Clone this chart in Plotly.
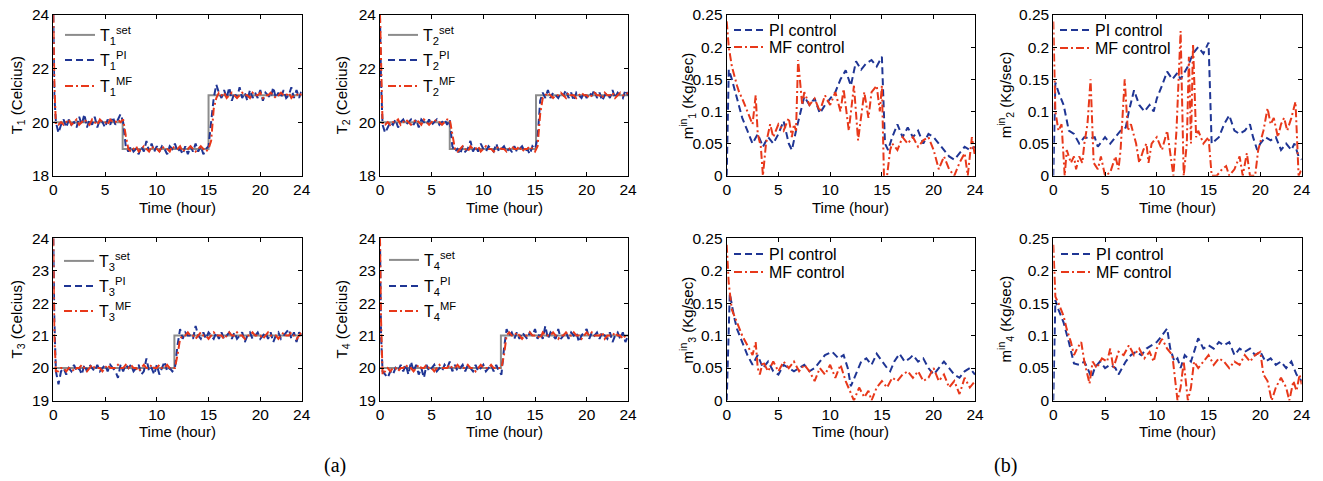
import plotly.graph_objects as go

W, H = 1323, 481

# ---------------- data ----------------
T_TIME = [0, 0.1] + [round(0.25 * i, 2) for i in range(1, 97)]

T1_SET_T = [0, 6.7, 6.7, 15.0, 15.0, 24]
T1_SET = [20, 20, 19, 19, 21, 21]
T1_PI = [24.0, 21.0,
    20.0, 19.6, 19.9, 20.1,
    19.8, 20.1, 19.9, 20.0,
    19.8, 20.2, 19.9, 20.3,
    19.8, 20.1, 19.9, 20.2,
    19.8, 20.1, 20.0, 19.8,
    20.1, 19.9, 20.2, 19.9,
    20.1, 20.3, 20.0, 19.1,
    18.9, 19.1, 18.9, 19.0,
    18.8, 19.1, 18.9, 19.3,
    18.9, 19.2, 18.9, 19.1,
    18.9, 19.1, 19.0, 18.8,
    19.1, 19.0, 19.2, 18.9,
    19.0, 18.8, 19.1, 18.8,
    19.1, 18.9, 19.2, 18.9,
    19.1, 18.8, 19.0, 19.1,
    20.0, 20.9, 21.4, 21.1,
    20.9, 21.2, 20.9, 21.3,
    20.8, 21.1, 20.9, 21.3,
    20.9, 21.1, 20.8, 21.2,
    20.9, 21.1, 20.9, 21.2,
    20.8, 21.1, 21.0, 20.9,
    21.3, 20.9, 21.1, 20.9,
    21.2, 20.9, 21.0, 21.3,
    20.9, 21.2, 20.9, 21.2]
T1_MF = [24.0, 21.5,
    19.9, 19.9, 20.0, 19.9,
    20.0, 20.1, 19.9, 20.0,
    20.1, 19.9, 20.0, 20.1,
    20.0, 19.9, 20.1, 20.0,
    19.9, 20.1, 20.0, 20.0,
    19.9, 20.1, 20.0, 20.0,
    20.1, 20.0, 20.1, 19.5,
    19.0, 18.9, 19.0, 19.1,
    18.9, 19.0, 19.1, 19.0,
    18.9, 19.1, 19.0, 19.0,
    18.9, 19.1, 19.0, 19.0,
    18.9, 19.1, 19.0, 19.0,
    19.1, 18.9, 19.0, 19.0,
    19.1, 19.0, 18.9, 19.0,
    19.1, 19.0, 18.9, 19.0,
    19.3, 20.5, 20.9, 21.1,
    21.0, 21.1, 20.9, 21.0,
    21.1, 21.0, 20.9, 21.0,
    21.1, 21.0, 21.0, 20.9,
    21.1, 21.0, 21.0, 21.1,
    20.9, 21.0, 21.0, 21.1,
    21.0, 20.9, 21.0, 21.1,
    21.0, 21.0, 21.1, 20.9,
    21.0, 21.0, 21.1, 21.0]

T2_SET_T = [0, 6.75, 6.75, 15.1, 15.1, 24]
T2_SET = [20, 20, 19, 19, 21, 21]
T2_PI = [24.0, 21.5,
    19.9, 19.6, 19.8, 20.0,
    19.9, 20.1, 19.8, 20.0,
    20.1, 19.9, 20.0, 20.1,
    19.9, 20.1, 19.8, 20.1,
    20.0, 19.9, 20.1, 19.9,
    20.0, 20.1, 19.9, 20.0,
    20.1, 19.9, 20.1, 19.1,
    18.9, 19.0, 18.8, 19.1,
    18.9, 19.0, 19.3, 18.9,
    19.1, 18.9, 19.2, 19.0,
    18.9, 19.1, 19.0, 18.9,
    19.2, 18.9, 19.0, 19.1,
    18.9, 19.0, 18.9, 19.1,
    18.9, 19.0, 19.1, 18.9,
    19.0, 18.8, 19.1, 19.0,
    19.4, 20.8, 21.1, 20.9,
    21.2, 20.9, 21.1, 21.0,
    20.9, 21.1, 21.0, 21.2,
    20.9, 21.1, 20.8, 21.1,
    21.0, 20.9, 21.1, 20.9,
    21.1, 21.0, 21.2, 20.9,
    21.1, 20.8, 21.0, 21.1,
    20.9, 21.2, 20.9, 21.1,
    21.0, 20.9, 21.2, 21.0]
T2_MF = [24.0, 22.0,
    19.9, 19.9, 20.0, 19.9,
    20.0, 20.0, 20.1, 19.9,
    20.0, 20.1, 20.0, 19.9,
    20.0, 20.1, 20.0, 19.9,
    20.1, 20.0, 19.9, 20.0,
    20.1, 20.0, 20.0, 19.9,
    20.0, 20.1, 20.1, 19.5,
    19.0, 18.9, 19.0, 19.1,
    19.0, 18.9, 19.1, 19.0,
    19.0, 19.1, 18.9, 19.0,
    19.1, 19.0, 19.0, 18.9,
    19.0, 19.1, 19.0, 19.0,
    18.9, 19.0, 19.1, 19.0,
    19.0, 19.1, 18.9, 19.0,
    19.0, 19.1, 19.0, 18.9,
    19.1, 20.3, 20.9, 21.0,
    21.1, 21.0, 20.9, 21.0,
    21.0, 21.1, 21.0, 20.9,
    21.1, 21.0, 21.0, 20.9,
    21.0, 21.1, 21.0, 21.0,
    20.9, 21.0, 21.1, 21.0,
    21.0, 20.9, 21.1, 21.0,
    21.0, 21.1, 20.9, 21.0,
    21.1, 21.0, 21.0, 21.1]

T3_SET_T = [0, 11.7, 11.7, 24]
T3_SET = [20, 20, 21, 21]
T3_PI = [24.0, 21.5,
    19.9, 19.5, 19.9, 20.0,
    19.8, 20.0, 19.9, 20.1,
    19.9, 20.0, 19.8, 20.1,
    19.9, 20.1, 20.0, 19.9,
    20.1, 19.9, 20.0, 20.1,
    19.9, 20.1, 20.0, 19.9,
    19.7, 20.1, 19.9, 20.1,
    20.0, 20.1, 19.9, 20.0,
    20.1, 19.8, 19.9, 20.3,
    19.9, 20.0, 19.8, 20.1,
    19.8, 20.0, 20.2, 19.9,
    20.0, 19.9, 20.0, 20.7,
    21.2, 20.9, 21.1, 21.0,
    21.0, 20.9, 21.3, 21.0,
    20.9, 21.1, 20.9, 21.1,
    21.0, 20.9, 21.1, 20.9,
    21.1, 20.9, 21.0, 21.1,
    20.9, 21.1, 20.9, 21.0,
    21.1, 20.8, 21.0, 21.1,
    20.9, 21.0, 21.1, 20.9,
    21.0, 21.1, 20.9, 21.1,
    20.8, 21.0, 21.1, 20.9,
    21.0, 21.1, 21.2, 20.9,
    21.1, 20.8, 21.1, 21.0]
T3_MF = [24.0, 21.0,
    19.9, 19.9, 20.0, 20.0,
    19.9, 20.0, 20.0, 19.9,
    20.0, 20.0, 20.1, 20.0,
    19.9, 20.0, 20.1, 20.0,
    20.0, 20.0, 19.9, 20.0,
    20.1, 20.0, 20.0, 20.0,
    20.1, 20.0, 20.0, 20.1,
    20.0, 20.1, 20.0, 20.0,
    19.9, 20.0, 20.1, 20.0,
    20.0, 20.1, 20.0, 20.0,
    20.1, 20.0, 20.0, 20.1,
    20.0, 20.0, 20.0, 20.4,
    20.9, 21.0, 21.0, 21.1,
    21.0, 21.0, 20.9, 21.0,
    21.1, 21.0, 21.0, 20.9,
    21.0, 21.1, 21.0, 21.0,
    21.0, 20.9, 21.0, 21.1,
    21.0, 21.0, 21.1, 21.0,
    21.0, 20.9, 21.0, 21.0,
    21.1, 21.0, 21.0, 21.0,
    20.9, 21.0, 21.1, 21.0,
    21.0, 21.0, 20.9, 21.0,
    21.1, 21.0, 21.0, 21.1,
    21.0, 20.9, 21.0, 21.1]

T4_SET_T = [0, 11.7, 11.7, 24]
T4_SET = [20, 20, 21, 21]
T4_PI = [24.0, 21.0,
    19.9, 19.8, 19.7, 19.9,
    19.8, 20.0, 19.9, 20.1,
    19.9, 20.1, 19.8, 20.2,
    19.9, 20.1, 19.8, 20.0,
    19.7, 20.1, 19.9, 20.0,
    20.1, 19.9, 20.0, 19.9,
    20.1, 20.0, 20.2, 19.9,
    20.1, 19.9, 20.0, 20.1,
    19.9, 20.1, 20.0, 19.9,
    20.1, 19.9, 20.0, 20.1,
    19.9, 20.0, 20.1, 19.9,
    20.1, 19.9, 19.8, 20.6,
    21.2, 21.0, 21.1, 20.9,
    21.1, 20.9, 21.1, 21.0,
    20.9, 21.1, 21.0, 21.2,
    20.9, 21.1, 20.9, 21.3,
    20.9, 21.1, 21.0, 20.9,
    21.2, 20.9, 21.0, 21.1,
    20.9, 21.1, 21.0, 21.1,
    20.8, 21.0, 21.1, 21.2,
    20.9, 21.1, 21.0, 21.1,
    20.9, 21.1, 21.0, 20.9,
    21.1, 20.8, 21.0, 21.1,
    20.9, 21.1, 20.8, 21.0]
T4_MF = [24.0, 21.5,
    19.8, 19.9, 20.0, 19.9,
    20.0, 20.0, 19.9, 20.0,
    20.0, 20.1, 20.0, 20.0,
    19.9, 20.0, 20.1, 20.0,
    20.0, 20.1, 20.0, 20.0,
    19.9, 20.0, 20.1, 20.0,
    20.0, 20.0, 20.1, 20.0,
    20.0, 20.1, 20.0, 20.0,
    20.0, 20.1, 20.0, 20.0,
    19.9, 20.0, 20.1, 20.0,
    20.0, 20.0, 20.1, 20.0,
    20.0, 20.0, 20.0, 20.4,
    21.0, 21.1, 21.0, 21.0,
    21.1, 21.0, 20.9, 21.0,
    21.0, 21.1, 21.0, 21.0,
    21.0, 20.9, 21.1, 21.0,
    21.0, 21.0, 21.1, 21.0,
    20.9, 21.0, 21.0, 21.1,
    21.0, 21.0, 21.1, 21.0,
    21.0, 20.9, 21.0, 21.1,
    21.0, 21.1, 21.0, 21.0,
    21.0, 21.1, 20.9, 21.0,
    21.0, 21.0, 21.1, 21.0,
    21.0, 20.9, 21.0, 21.0]

M1_PI_T = [0, 0.2, 0.5, 1, 1.5, 2, 2.5, 3, 3.5, 4, 4.5, 5, 5.5, 6, 6.3, 6.7, 7.0, 7.5, 8, 8.5,
           9, 9.5, 10, 10.5, 11, 11.5, 12, 12.5, 13, 13.5, 14, 14.5, 15, 15.3, 15.6, 16, 16.5, 17, 17.5, 18,
           18.5, 19, 19.5, 20, 20.5, 21, 21.5, 22, 22.5, 23, 23.5, 24]
M1_PI = [0, 0.165, 0.15, 0.12, 0.09, 0.07, 0.05, 0.065, 0.045, 0.06, 0.05, 0.065, 0.085, 0.05, 0.04, 0.07, 0.09, 0.123, 0.11, 0.12,
         0.097, 0.11, 0.12, 0.13, 0.15, 0.164, 0.14, 0.178, 0.165, 0.175, 0.18, 0.17, 0.185, 0.05, 0.04, 0.06, 0.08, 0.06, 0.075, 0.06,
         0.07, 0.05, 0.065, 0.06, 0.05, 0.04, 0.03, 0.025, 0.035, 0.045, 0.04, 0.045]
M1_MF_T = [0, 0.2, 0.5, 0.8, 1.0, 1.2, 1.5, 2.0, 2.5, 2.8, 3.0, 3.3, 3.5, 3.8, 4.2, 4.5, 5.0, 5.5, 6.0, 6.3,
           6.5, 6.7, 6.9, 7.3, 7.5, 8.0, 8.5, 9.0, 9.5, 10.0, 10.5, 11.0, 11.3, 11.8, 12.0, 12.3, 12.7, 13.0, 13.3, 13.7,
           14.0, 14.5, 14.8, 15.0, 15.2, 15.5, 15.8, 16.0, 16.5, 17.0, 17.5, 18.0, 18.5, 19.0, 19.5, 20.0, 20.5, 21.0, 21.5, 22.0,
           22.5, 23.0, 23.3, 23.7, 24.0]
M1_MF = [0.24, 0.2, 0.17, 0.15, 0.14, 0.13, 0.12, 0.1, 0.08, 0.125, 0.065, 0.045, 0.0, 0.05, 0.08, 0.06, 0.08, 0.07, 0.09, 0.06,
         0.08, 0.07, 0.18, 0.11, 0.13, 0.11, 0.12, 0.1, 0.125, 0.11, 0.13, 0.1, 0.135, 0.07, 0.1, 0.14, 0.055, 0.09, 0.13, 0.09,
         0.13, 0.14, 0.1, 0.14, 0.0, 0.0, 0.04, 0.05, 0.04, 0.06, 0.05, 0.06, 0.045, 0.055, 0.06, 0.04, 0.01, 0.03, 0.01, 0.0,
         0.02, 0.035, 0.0, 0.06, 0.03]

M2_PI_T = [0, 0.2, 0.5, 1.0, 1.5, 2.0, 2.5, 3.0, 3.5, 4.0, 4.3, 5.0, 5.5, 6.0, 6.5, 7.0, 7.3, 7.8, 8.3, 8.8,
           9.3, 9.7, 10.0, 10.5, 11.0, 11.5, 12.0, 12.3, 13.0, 13.5, 14.0, 14.5, 15.0, 15.3, 16.0, 16.5, 17.0, 17.5, 18.0, 18.5,
           19.0, 19.3, 19.7, 20.0, 20.5, 21.0, 21.5, 22.0, 22.5, 23.0, 23.3, 23.7, 24.0]
M2_PI = [0, 0.145, 0.13, 0.11, 0.07, 0.065, 0.05, 0.06, 0.058, 0.06, 0.045, 0.06, 0.05, 0.06, 0.07, 0.075, 0.1, 0.133, 0.11, 0.1,
         0.11, 0.1, 0.12, 0.14, 0.162, 0.15, 0.16, 0.15, 0.17, 0.19, 0.2, 0.19, 0.207, 0.05, 0.06, 0.08, 0.094, 0.07, 0.065, 0.07,
         0.08, 0.06, 0.04, 0.05, 0.06, 0.055, 0.06, 0.04, 0.05, 0.04, 0.05, 0.03, 0.025]
M2_MF_T = [0, 0.2, 0.5, 0.8, 1.1, 1.3, 1.7, 2.0, 2.2, 2.5, 2.8, 3.0, 3.3, 3.6, 3.9, 4.3, 4.6, 5.0, 5.5, 6.0,
           6.3, 6.5, 6.9, 7.2, 7.5, 8.0, 8.3, 8.7, 9.0, 9.2, 9.5, 10.0, 10.5, 11.0, 11.6, 11.9, 12.3, 12.6, 12.9, 13.1,
           13.3, 13.5, 13.8, 14.0, 14.5, 15.0, 15.3, 15.8, 16.3, 16.7, 17.0, 17.5, 18.0, 18.3, 18.7, 19.0, 19.5, 19.8, 20.3, 20.7,
           21.0, 21.3, 21.7, 22.0, 22.3, 22.6, 23.0, 23.4, 23.7, 24.0]
M2_MF = [0.24, 0.1, 0.07, 0.08, 0.0, 0.04, 0.02, 0.03, 0.01, 0.03, 0.02, 0.05, 0.08, 0.15, 0.02, 0.01, 0.03, 0.0, 0.005, 0.03,
         0.01, 0.04, 0.15, 0.07, 0.08, 0.05, 0.02, 0.04, 0.05, 0.02, 0.05, 0.06, 0.04, 0.07, 0.0, 0.07, 0.225, 0.0, 0.05, 0.185,
         0.05, 0.205, 0.06, 0.07, 0.05, 0.06, 0.0, 0.0, 0.01, 0.015, 0.0, 0.01, 0.03, 0.0, 0.035, 0.0, 0.0, 0.04, 0.07, 0.105,
         0.08, 0.09, 0.06, 0.08, 0.09, 0.07, 0.09, 0.115, 0.0, 0.01]

M3_PI_T = [0, 0.3, 0.7, 1.0, 1.5, 2.0, 2.5, 3.0, 3.5, 4.0, 4.5, 5.0, 5.5, 6.0, 6.5, 7.0, 7.5, 8.0, 8.5, 9.0,
           9.5, 10.2, 10.8, 11.3, 11.7, 12.0, 12.5, 13.0, 13.5, 14.0, 14.5, 15.0, 15.5, 15.8, 16.2, 16.7, 17.2, 17.7, 18.0, 18.5,
           19.0, 19.5, 20.0, 20.5, 21.0, 21.5, 22.0, 22.5, 23.0, 23.5, 24.0]
M3_PI = [0, 0.165, 0.13, 0.11, 0.09, 0.07, 0.055, 0.07, 0.05, 0.06, 0.045, 0.04, 0.055, 0.05, 0.045, 0.05, 0.055, 0.045, 0.05, 0.06,
         0.07, 0.075, 0.065, 0.07, 0.05, 0.022, 0.04, 0.06, 0.065, 0.055, 0.072, 0.06, 0.05, 0.045, 0.06, 0.072, 0.06, 0.065, 0.07, 0.06,
         0.065, 0.05, 0.04, 0.05, 0.06, 0.05, 0.04, 0.035, 0.045, 0.05, 0.04]
M3_MF_T = [0, 0.2, 0.5, 1.0, 1.5, 2.0, 2.5, 2.8, 3.0, 3.2, 3.5, 4.0, 4.5, 5.0, 5.5, 6.0, 6.5, 7.0, 7.5, 8.0,
           8.5, 9.0, 9.5, 10.0, 10.5, 11.0, 11.5, 12.3, 12.8, 13.3, 13.7, 14.0, 14.5, 15.0, 15.5, 16.0, 16.5, 17.0, 17.5, 18.0,
           18.5, 19.0, 19.5, 20.0, 20.5, 21.0, 21.5, 22.0, 22.5, 23.0, 23.5, 24.0]
M3_MF = [0.24, 0.18, 0.14, 0.12, 0.1, 0.085, 0.07, 0.09, 0.05, 0.04, 0.06, 0.045, 0.06, 0.045, 0.06, 0.05, 0.06, 0.045, 0.055, 0.045,
         0.03, 0.05, 0.04, 0.055, 0.035, 0.055, 0.03, 0.0, 0.02, 0.005, 0.015, 0.0, 0.02, 0.03, 0.02, 0.035, 0.03, 0.04, 0.045, 0.035,
         0.045, 0.03, 0.035, 0.05, 0.03, 0.04, 0.02, 0.03, 0.01, 0.035, 0.02, 0.03]

M4_PI_T = [0, 0.2, 0.5, 1.0, 1.5, 2.0, 2.5, 3.0, 3.3, 3.7, 4.0, 4.5, 5.0, 5.5, 6.0, 6.3, 7.0, 7.5, 8.0, 8.5,
           9.0, 9.5, 10.0, 10.5, 11.0, 11.3, 11.7, 12.0, 12.3, 12.7, 13.3, 13.7, 14.0, 14.5, 15.0, 15.5, 16.0, 16.5, 17.0, 17.5,
           18.0, 18.5, 19.0, 19.5, 20.0, 20.5, 21.0, 21.5, 22.0, 22.5, 23.0, 23.5, 24.0]
M4_PI = [0, 0.155, 0.14, 0.12, 0.09, 0.057, 0.055, 0.06, 0.05, 0.035, 0.05, 0.06, 0.05, 0.055, 0.05, 0.04, 0.06, 0.07, 0.075, 0.07,
         0.08, 0.085, 0.09, 0.1, 0.111, 0.08, 0.06, 0.065, 0.05, 0.07, 0.06, 0.08, 0.096, 0.08, 0.085, 0.08, 0.09, 0.085, 0.09, 0.07,
         0.08, 0.075, 0.08, 0.07, 0.075, 0.06, 0.065, 0.055, 0.06, 0.05, 0.06, 0.04, 0.03]
M4_MF_T = [0, 0.2, 0.5, 1.0, 1.3, 1.7, 2.0, 2.3, 2.7, 3.0, 3.5, 3.8, 4.2, 4.7, 5.2, 5.5, 5.8, 6.3, 6.8, 7.3,
           7.8, 8.3, 8.8, 9.3, 9.7, 10.0, 10.5, 11.0, 11.5, 11.8, 12.0, 12.3, 12.6, 13.0, 13.3, 13.6, 14.0, 14.5, 15.0, 15.5,
           16.0, 16.5, 17.0, 17.5, 18.0, 18.5, 19.0, 19.5, 20.0, 20.3, 20.7, 21.1, 21.5, 22.0, 22.5, 22.8, 23.2, 23.5, 23.8, 24.0]
M4_MF = [0.24, 0.16, 0.15, 0.13, 0.11, 0.09, 0.07, 0.08, 0.09, 0.06, 0.026, 0.06, 0.05, 0.065, 0.06, 0.08, 0.05, 0.075, 0.07, 0.085,
         0.07, 0.08, 0.065, 0.075, 0.06, 0.08, 0.095, 0.08, 0.07, 0.03, 0.0, 0.02, 0.06, 0.0, 0.02, 0.06, 0.05, 0.06, 0.07, 0.055,
         0.065, 0.06, 0.05, 0.06, 0.055, 0.07, 0.06, 0.07, 0.075, 0.04, 0.03, 0.0, 0.02, 0.035, 0.02, 0.0, 0.03, 0.015, 0.04, 0.025]

X_TICKS = [0, 5, 10, 15, 20, 24]
T_TICKS_A = [18, 20, 22, 24]
T_TICKS_B = [19, 20, 21, 22, 23, 24]
M_TICKS = [0, 0.05, 0.1, 0.15, 0.2, 0.25]
M_TICK_TEXT = ["0", "0.05", "0.1", "0.15", "0.2", "0.25"]

# ---------------- style ----------------
FONT = "Liberation Sans, Arial, sans-serif"
GRAY = "#8c8c8c"
BLUE = "#1f3594"
RED = "#e8381a"
DASH_PI = "7px,4px"
DASH_MF = "8px,3px,2px,3px"
FS = 15
TICK_FS = 15.5
LEG_FS = 16

# panel boxes in pixels: (left, right, top, bottom)
COLS = [(53.3, 301.7), (380, 628), (726.7, 975), (1053.3, 1301.7)]
ROWS = [(15, 175.7), (238.3, 400.5)]


def xd(a, b):
    return [a / W, b / W]


def yd(top, bottom):
    return [1 - bottom / H, 1 - top / H]


fig = go.Figure()

panels = [
    (0, 0, "T", 1), (1, 0, "T", 2), (2, 0, "M", 1), (3, 0, "M", 2),
    (0, 1, "T", 3), (1, 1, "T", 4), (2, 1, "M", 3), (3, 1, "M", 4),
]

TDATA = {
    1: (T1_SET_T, T1_SET, T1_PI, T1_MF, T_TICKS_A, [18, 24]),
    2: (T2_SET_T, T2_SET, T2_PI, T2_MF, T_TICKS_A, [18, 24]),
    3: (T3_SET_T, T3_SET, T3_PI, T3_MF, T_TICKS_B, [19, 24]),
    4: (T4_SET_T, T4_SET, T4_PI, T4_MF, T_TICKS_B, [19, 24]),
}
MDATA = {
    1: (M1_PI_T, M1_PI, M1_MF_T, M1_MF),
    2: (M2_PI_T, M2_PI, M2_MF_T, M2_MF),
    3: (M3_PI_T, M3_PI, M3_MF_T, M3_MF),
    4: (M4_PI_T, M4_PI, M4_MF_T, M4_MF),
}

# legend sample line start (px) and row centres (px) for each panel
LEG_X = {0: 70, 1: 393, 2: 739, 3: 1065, 4: 69, 5: 394, 6: 739, 7: 1066}
LEG_ROWS = {0: [32, 57, 83], 1: [32, 57, 83], 2: [30, 47], 3: [30, 48],
            4: [258, 283, 308], 5: [257, 283, 308], 6: [254, 272], 7: [254, 272]}
YTITLE_X = {0: 17, 1: 342, 2: 687, 3: 1005}

annotations = []
layout_extra = {}
leg_counter = [0]


def new_legend(lx, rowc, off):
    leg_counter[0] += 1
    n = leg_counter[0]
    name = "legend" if n == 1 else f"legend{n}"
    layout_extra[name] = dict(x=(lx - 10) / W, y=1 - (rowc - off) / H, xanchor="left", yanchor="top",
                              bgcolor="rgba(0,0,0,0)", borderwidth=0,
                              font=dict(family=FONT, size=LEG_FS, color="black"))
    return name


for k, (c, r, kind, idx) in enumerate(panels):
    n = k + 1
    xa = "x" if n == 1 else f"x{n}"
    ya = "y" if n == 1 else f"y{n}"
    L, R = COLS[c]
    Tp, Bt = ROWS[r]
    rows = LEG_ROWS[k]
    lx = LEG_X[k]

    if kind == "T":
        st, sv, pi, mf, yt, yr = TDATA[idx]
        fig.add_trace(go.Scatter(x=st, y=sv, mode="lines", xaxis=xa, yaxis=ya, legend=new_legend(lx, rows[0], 14),
                                 name=f"T<sub>{idx}</sub><sup>set</sup>",
                                 line=dict(color=GRAY, width=2)))
        fig.add_trace(go.Scatter(x=T_TIME, y=pi, mode="lines", xaxis=xa, yaxis=ya, legend=new_legend(lx, rows[1], 14),
                                 name=f"T<sub>{idx}</sub><sup>PI</sup>",
                                 line=dict(color=BLUE, width=2, dash=DASH_PI)))
        fig.add_trace(go.Scatter(x=T_TIME, y=mf, mode="lines", xaxis=xa, yaxis=ya, legend=new_legend(lx, rows[2], 14),
                                 name=f"T<sub>{idx}</sub><sup>MF</sup>",
                                 line=dict(color=RED, width=2, dash=DASH_MF)))
        ytitle = f"T<sub>{idx}</sub> (Celcius)"
        yaxis_extra = dict(range=yr, tickvals=yt)
    else:
        pt, pv, mt, mv = MDATA[idx]
        fig.add_trace(go.Scatter(x=pt, y=pv, mode="lines", xaxis=xa, yaxis=ya, legend=new_legend(lx, rows[0], 17),
                                 name="PI control",
                                 line=dict(color=BLUE, width=2, dash=DASH_PI)))
        fig.add_trace(go.Scatter(x=mt, y=mv, mode="lines", xaxis=xa, yaxis=ya, legend=new_legend(lx, rows[1], 17),
                                 name="MF control",
                                 line=dict(color=RED, width=2, dash=DASH_MF)))
        ytitle = f"m<sup>in</sup><sub>{idx}</sub> (Kg/sec)"
        yaxis_extra = dict(range=[0, 0.25], tickvals=M_TICKS, ticktext=M_TICK_TEXT)

    common = dict(ticks="inside", ticklen=4, tickwidth=1, tickcolor="black",
                  showline=True, linecolor="black", linewidth=1, mirror="ticks",
                  showgrid=False, zeroline=False, automargin=False,
                  tickfont=dict(family=FONT, size=TICK_FS, color="black"))
    layout_extra["xaxis" if n == 1 else f"xaxis{n}"] = dict(
        domain=xd(L, R), anchor=ya, range=[0, 24], tickvals=X_TICKS, **common)
    layout_extra["yaxis" if n == 1 else f"yaxis{n}"] = dict(
        domain=yd(Tp, Bt), anchor=xa, **yaxis_extra, **common)

    annotations.append(dict(text="Time (hour)", x=((L + R) / 2) / W, y=1 - (207 if r == 0 else 431) / H,
                            xref="paper", yref="paper", showarrow=False, xanchor="center", yanchor="middle",
                            font=dict(family=FONT, size=FS, color="black")))
    annotations.append(dict(text=ytitle, x=YTITLE_X[c] / W, y=1 - ((Tp + Bt) / 2) / H,
                            xref="paper", yref="paper", showarrow=False, textangle=-90,
                            xanchor="center", yanchor="middle",
                            font=dict(family=FONT, size=FS, color="black")))

annotations.append(dict(text="(a)", x=335 / W, y=1 - 465 / H, xref="paper", yref="paper", showarrow=False,
                        xanchor="center", yanchor="middle",
                        font=dict(family="Liberation Serif, Times New Roman, serif", size=20, color="black")))
annotations.append(dict(text="(b)", x=1005 / W, y=1 - 465 / H, xref="paper", yref="paper", showarrow=False,
                        xanchor="center", yanchor="middle",
                        font=dict(family="Liberation Serif, Times New Roman, serif", size=20, color="black")))

fig.update_layout(width=W, height=H, margin=dict(l=0, r=0, t=0, b=0, autoexpand=False),
                  paper_bgcolor="white", plot_bgcolor="white",
                  showlegend=True, annotations=annotations,
                  font=dict(family=FONT, size=FS, color="black"),
                  **layout_extra)

fig.write_html("out.html", config={"responsive": False, "displayModeBar": False},
               post_script="document.body.style.margin='0';document.body.style.overflow='hidden';")
